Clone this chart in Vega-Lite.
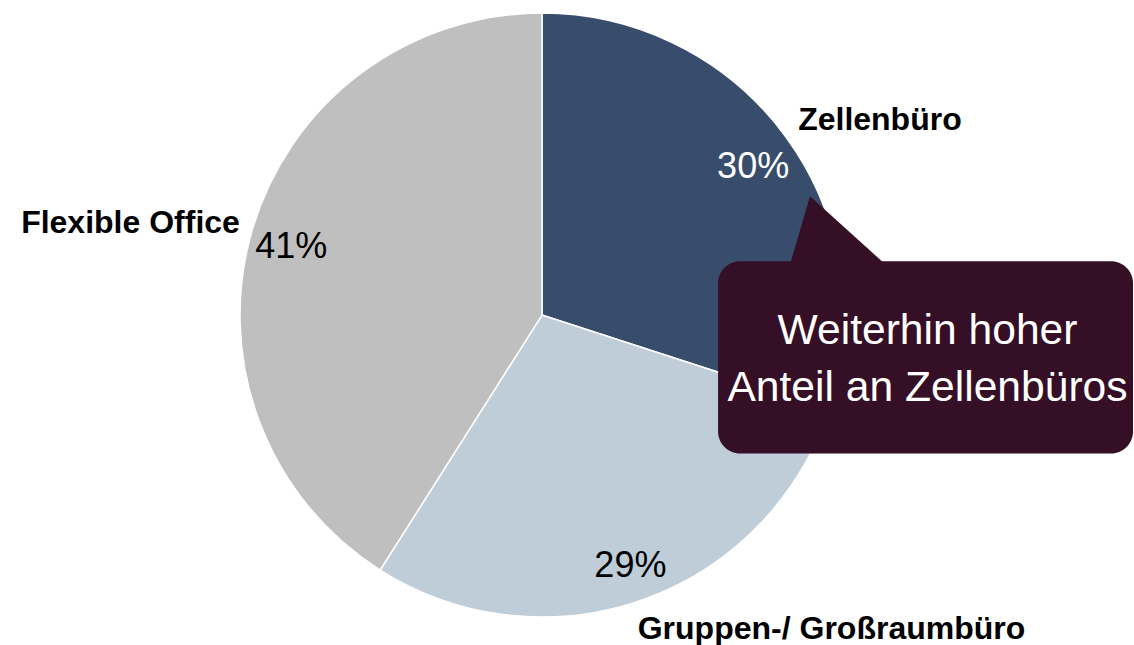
{
  "$schema": "https://vega.github.io/schema/vega-lite/v6.json",
  "width": 1134,
  "height": 645,
  "autosize": {"type": "fit", "contains": "padding"},
  "padding": 0,
  "background": "white",
  "config": {"view": {"stroke": null}, "font": "Liberation Sans"},
  "data": {
    "values": [
      {"kategorie": "Zellenbüro", "anteil": 30, "label": "30%", "idx": 1},
      {"kategorie": "Gruppen-/ Großraumbüro", "anteil": 29, "label": "29%", "idx": 2},
      {"kategorie": "Flexible Office", "anteil": 41, "label": "41%", "idx": 3}
    ]
  },
  "encoding": {
    "x": {"datum": 0, "type": "quantitative", "scale": {"domain": [-1.7947, 1.9603], "nice": false, "zero": false}, "axis": null},
    "y": {"datum": 0, "type": "quantitative", "scale": {"domain": [-1.0894, 1.0464], "nice": false, "zero": false}, "axis": null}
  },
  "layer": [
    {
      "mark": {"type": "arc", "outerRadius": 302, "stroke": "white", "strokeWidth": 1.5},
      "encoding": {
        "theta": {"field": "anteil", "type": "quantitative", "stack": true},
        "order": {"field": "idx", "type": "quantitative"},
        "color": {
          "field": "kategorie",
          "type": "nominal",
          "scale": {"domain": ["Zellenbüro", "Gruppen-/ Großraumbüro", "Flexible Office"], "range": ["#384D6B", "#BFCDD9", "#BFBFBF"]},
          "legend": null
        }
      }
    },
    {
      "mark": {"type": "text", "radius": 261, "dy": 5, "fontSize": 36, "align": "center", "baseline": "middle"},
      "encoding": {
        "theta": {"field": "anteil", "type": "quantitative", "stack": true},
        "order": {"field": "idx", "type": "quantitative"},
        "text": {"field": "label"},
        "color": {"condition": {"test": "datum.idx == 1", "value": "#FFFFFF"}, "value": "#000000"}
      }
    },
    {
      "data": {"values": [{"text": "Zellenbüro"}]},
      "mark": {"type": "text", "fontSize": 32, "fontWeight": "bold", "align": "center", "baseline": "middle", "color": "black"},
      "encoding": {"x": {"datum": 1.119}, "y": {"datum": 0.649}, "text": {"field": "text"}}
    },
    {
      "data": {"values": [{"text": "Flexible Office"}]},
      "mark": {"type": "text", "fontSize": 32, "fontWeight": "bold", "align": "center", "baseline": "middle", "color": "black"},
      "encoding": {"x": {"datum": -1.3626}, "y": {"datum": 0.3046}, "text": {"field": "text"}}
    },
    {
      "data": {"values": [{"text": "Gruppen-/ Großraumbüro"}]},
      "mark": {"type": "text", "fontSize": 32, "fontWeight": "bold", "align": "center", "baseline": "middle", "color": "black"},
      "encoding": {"x": {"datum": 0.9586}, "y": {"datum": -1.043}, "text": {"field": "text"}}
    },
    {
      "data": {"values": [{"note": "callout"}]},
      "mark": {"type": "point", "filled": true, "shape": "M -0.5 -0.55 L 0.883 0.7 L -0.867 0.7 Z", "size": 14400, "color": "#350F25", "opacity": 1, "strokeWidth": 0},
      "encoding": {"x": {"datum": 0.9868}, "y": {"datum": 0.2848}}
    },
    {
      "data": {"values": [{"note": "callout"}]},
      "mark": {"type": "rect", "cornerRadius": 22, "color": "#350F25"},
      "encoding": {"x": {"datum": 0.583}, "x2": {"datum": 1.957}, "y": {"datum": 0.179}, "y2": {"datum": -0.46}}
    },
    {
      "data": {"values": [{"note": "callout"}]},
      "mark": {"type": "text", "fontSize": 42.6, "align": "center", "baseline": "alphabetic", "color": "white", "lineHeight": 57, "text": ["Weiterhin hoher", "Anteil an Zellenbüros"]},
      "encoding": {"x": {"datum": 1.2765}, "y": {"datum": -0.096}}
    }
  ]
}
